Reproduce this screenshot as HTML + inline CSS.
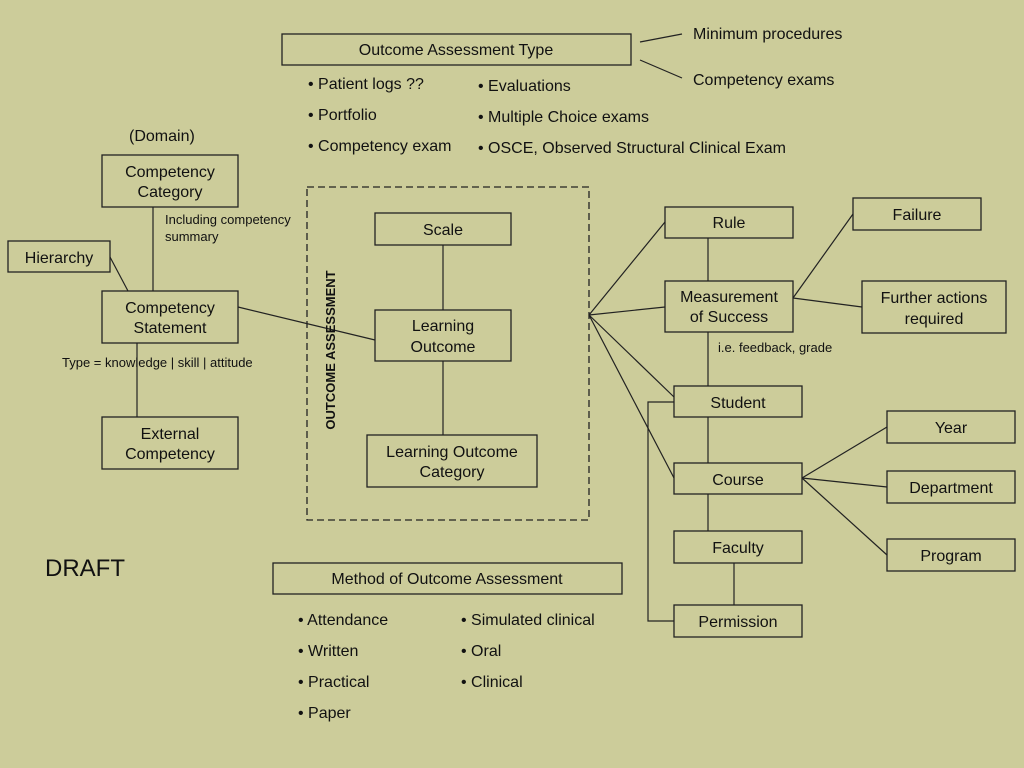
<!DOCTYPE html>
<html><head><style>
html,body{margin:0;padding:0;background:#cccc9a;}
svg{display:block;font-family:"Liberation Sans",Arial,sans-serif;fill:#111;}
text{fill:#111;}
.b{fill:none;stroke:#222;stroke-width:1.3;}
.l{stroke:#222;stroke-width:1.2;fill:none;}
.t{font-size:16px;text-anchor:middle;}
.s{font-size:16px;}
.m{font-size:13px;}
</style></head><body>
<svg width="1024" height="768" viewBox="0 0 1024 768">
<rect width="1024" height="768" fill="#cccc9a"/>
<!-- top -->
<rect class="b" x="282" y="34" width="349" height="31"/>
<text class="t" x="456" y="55">Outcome Assessment Type</text>
<line class="l" x1="640" y1="42" x2="682" y2="34"/>
<line class="l" x1="640" y1="60" x2="682" y2="78"/>
<text class="s" x="693" y="39">Minimum procedures</text>
<text class="s" x="693" y="85">Competency exams</text>
<text class="s" x="308" y="89">• Patient logs ??</text>
<text class="s" x="308" y="120">• Portfolio</text>
<text class="s" x="308" y="151">• Competency exam</text>
<text class="s" x="478" y="91">• Evaluations</text>
<text class="s" x="478" y="122">• Multiple Choice exams</text>
<text class="s" x="478" y="153">• OSCE, Observed Structural Clinical Exam</text>
<!-- left -->
<text class="s" x="129" y="141">(Domain)</text>
<rect class="b" x="102" y="155" width="136" height="52"/>
<text class="t" x="170" y="177">Competency</text><text class="t" x="170" y="197">Category</text>
<text class="m" x="165" y="224">Including competency</text>
<text class="m" x="165" y="241">summary</text>
<rect class="b" x="8" y="241" width="102" height="31"/>
<text class="t" x="59" y="263">Hierarchy</text>
<rect class="b" x="102" y="291" width="136" height="52"/>
<text class="t" x="170" y="313">Competency</text><text class="t" x="170" y="333">Statement</text>
<text class="m" x="62" y="367">Type = knowledge | skill | attitude</text>
<rect class="b" x="102" y="417" width="136" height="52"/>
<text class="t" x="170" y="439">External</text><text class="t" x="170" y="459">Competency</text>
<line class="l" x1="153" y1="207" x2="153" y2="291"/>
<line class="l" x1="137" y1="343" x2="137" y2="417"/>
<line class="l" x1="110" y1="257" x2="128" y2="291"/>
<line class="l" x1="238" y1="307" x2="375" y2="340"/>
<text x="45" y="576" style="font-size:24px">DRAFT</text>
<!-- center -->
<rect x="307" y="187" width="282" height="333" fill="none" stroke="#222" stroke-width="1.3" stroke-dasharray="7,4"/>
<text transform="translate(335,350) rotate(-90)" style="font-size:13px;font-weight:bold;text-anchor:middle">OUTCOME ASSESSMENT</text>
<rect class="b" x="375" y="213" width="136" height="32"/>
<text class="t" x="443" y="235">Scale</text>
<rect class="b" x="375" y="310" width="136" height="51"/>
<text class="t" x="443" y="331">Learning</text><text class="t" x="443" y="352">Outcome</text>
<rect class="b" x="367" y="435" width="170" height="52"/>
<text class="t" x="452" y="457">Learning Outcome</text><text class="t" x="452" y="477">Category</text>
<line class="l" x1="443" y1="245" x2="443" y2="310"/>
<line class="l" x1="443" y1="361" x2="443" y2="435"/>
<!-- bottom -->
<rect class="b" x="273" y="563" width="349" height="31"/>
<text class="t" x="447" y="584">Method of Outcome Assessment</text>
<text class="s" x="298" y="625">• Attendance</text>
<text class="s" x="298" y="656">• Written</text>
<text class="s" x="298" y="687">• Practical</text>
<text class="s" x="298" y="718">• Paper</text>
<text class="s" x="461" y="625">• Simulated clinical</text>
<text class="s" x="461" y="656">• Oral</text>
<text class="s" x="461" y="687">• Clinical</text>
<!-- right -->
<line class="l" x1="589" y1="315" x2="665" y2="222"/>
<line class="l" x1="589" y1="315" x2="665" y2="307"/>
<line class="l" x1="589" y1="315" x2="674" y2="397"/>
<line class="l" x1="589" y1="315" x2="674" y2="478"/>
<rect class="b" x="665" y="207" width="128" height="31"/>
<text class="t" x="729" y="228">Rule</text>
<rect class="b" x="665" y="281" width="128" height="51"/>
<text class="t" x="729" y="302">Measurement</text><text class="t" x="729" y="322">of Success</text>
<text class="m" x="718" y="352">i.e. feedback, grade</text>
<rect class="b" x="674" y="386" width="128" height="31"/>
<text class="t" x="738" y="408">Student</text>
<rect class="b" x="674" y="463" width="128" height="31"/>
<text class="t" x="738" y="485">Course</text>
<rect class="b" x="674" y="531" width="128" height="32"/>
<text class="t" x="738" y="553">Faculty</text>
<rect class="b" x="674" y="605" width="128" height="32"/>
<text class="t" x="738" y="627">Permission</text>
<line class="l" x1="708" y1="238" x2="708" y2="281"/>
<line class="l" x1="708" y1="332" x2="708" y2="386"/>
<line class="l" x1="708" y1="417" x2="708" y2="463"/>
<line class="l" x1="708" y1="494" x2="708" y2="531"/>
<line class="l" x1="734" y1="563" x2="734" y2="605"/>
<polyline class="l" points="674,402 648,402 648,621 674,621"/>
<rect class="b" x="853" y="198" width="128" height="32"/>
<text class="t" x="917" y="220">Failure</text>
<rect class="b" x="862" y="281" width="144" height="52"/>
<text class="t" x="934" y="303">Further actions</text><text class="t" x="934" y="324">required</text>
<line class="l" x1="793" y1="298" x2="853" y2="214"/>
<line class="l" x1="793" y1="298" x2="862" y2="307"/>
<rect class="b" x="887" y="411" width="128" height="32"/>
<text class="t" x="951" y="433">Year</text>
<rect class="b" x="887" y="471" width="128" height="32"/>
<text class="t" x="951" y="493">Department</text>
<rect class="b" x="887" y="539" width="128" height="32"/>
<text class="t" x="951" y="561">Program</text>
<line class="l" x1="802" y1="478" x2="887" y2="427"/>
<line class="l" x1="802" y1="478" x2="887" y2="487"/>
<line class="l" x1="802" y1="478" x2="887" y2="555"/>
</svg>
</body></html>
